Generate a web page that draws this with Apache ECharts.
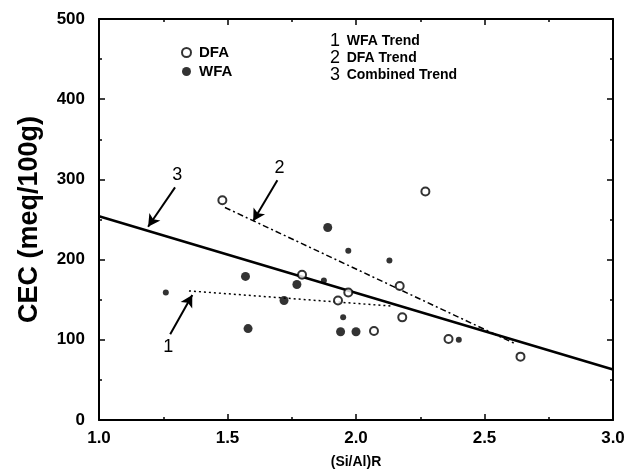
<!DOCTYPE html>
<html>
<head>
<meta charset="utf-8">
<script src="https://cdn.jsdelivr.net/npm/echarts@6/dist/echarts.min.js"></script>
<style>
  html, body { margin: 0; padding: 0; background: #fff; }
  #chart { width: 640px; height: 474px; }
</style>
</head>
<body>
<div id="chart"></div>
<script>
  // points: [(Si/Al)R, CEC]
  const dfaPoints = [
    [1.48, 274], [2.27, 285], [1.79, 181], [1.97, 159], [1.93, 149],
    [2.07, 111], [2.17, 167], [2.18, 128], [2.36, 101], [2.64, 79]
  ]
  const wfaPoints = [
    [1.89, 240], [1.58, 114], [1.77, 169], [1.94, 110], [2.00, 110],
    [1.57, 179], [1.72, 149]
  ]
  const wfaSmallPoints = [
    [1.26, 159], [1.97, 211], [2.13, 199], [1.875, 174], [1.95, 128], [2.40, 100]
  ]

  // trend lines (end points)
  const wfaTrend = [[1.35, 161], [2.14, 142]]
  const dfaTrend = [[1.49, 265], [2.62, 95]]
  const combinedTrend = [[1.0, 254], [3.0, 63]]

  // numbered arrows: [label, tail, head]
  const arrows = [
    ['1', [1.277, 107], [1.363, 156]],
    ['2', [1.694, 299], [1.600, 248]],
    ['3', [1.296, 290], [1.191, 241]]
  ]
  const trendLegend = ['WFA Trend', 'DFA Trend', 'Combined Trend']

  const chart = echarts.init(document.getElementById('chart'))

  const axisBase = {
    axisLine: { show: true, onZero: false, lineStyle: { color: '#000', width: 2 } },
    axisTick: { show: true, inside: true, length: 6, lineStyle: { color: '#000', width: 1.5 } },
    minorTick: { show: true, splitNumber: 2, length: 3, lineStyle: { color: '#000', width: 1.5 } },
    splitLine: { show: false }
  }

  chart.setOption({
    animation: false,
    backgroundColor: '#fff',
    textStyle: { fontFamily: 'Liberation Sans, Arial, sans-serif' },
    grid: { left: 99, right: 27, top: 19, bottom: 50 },
    legend: {
      data: ['DFA', 'WFA'],
      orient: 'vertical',
      left: 176,
      top: 40,
      itemWidth: 9,
      itemHeight: 9,
      itemGap: 4,
      textStyle: { fontSize: 15, fontWeight: 'bold', color: '#000', padding: [0, 0, 0, 3] }
    },
    graphic: trendLegend.map((t, i) => ({
      type: 'text',
      left: 330,
      top: 32 + i * 17,
      style: {
        text: '{n|' + (i + 1) + '}  {t|' + t + '}',
        rich: {
          n: { fontSize: 18, fill: '#000', fontFamily: 'Liberation Sans' },
          t: { fontSize: 14, fontWeight: 'bold', fill: '#000', fontFamily: 'Liberation Sans' }
        }
      }
    })),
    xAxis: [{
      ...axisBase,
      type: 'value',
      min: 1,
      max: 3,
      interval: 0.5,
      name: '(Si/Al)R',
      nameLocation: 'middle',
      nameGap: 35,
      nameTextStyle: { fontSize: 14, fontWeight: 'bold', color: '#000' },
      axisLabel: {
        fontSize: 17, fontWeight: 'bold', color: '#000', margin: 10,
        formatter: v => v.toFixed(1)
      }
    }, {
      ...axisBase,
      type: 'value',
      position: 'top',
      min: 1,
      max: 3,
      interval: 0.5,
      axisLabel: { show: false }
    }],
    yAxis: [{
      ...axisBase,
      type: 'value',
      min: 0,
      max: 500,
      interval: 100,
      name: 'CEC (meq/100g)',
      nameLocation: 'middle',
      nameGap: 56,
      nameTextStyle: { fontSize: 27, fontWeight: 'bold', color: '#000' },
      axisLabel: { fontSize: 17, fontWeight: 'bold', color: '#000', margin: 14 }
    }, {
      ...axisBase,
      type: 'value',
      position: 'right',
      min: 0,
      max: 500,
      interval: 100,
      axisLabel: { show: false }
    }],
    series: [
      {
        name: 'Combined Trend',
        type: 'line',
        data: combinedTrend,
        symbol: 'none',
        lineStyle: { color: '#000', width: 2.5 },
        z: 3,
        markLine: {
          silent: true,
          symbol: ['none', 'arrow'],
          symbolSize: [10, 12],
          lineStyle: { color: '#000', width: 2, type: 'solid' },
          label: {
            show: true,
            position: 'start',
            distance: 4,
            fontSize: 18,
            color: '#000',
            formatter: p => p.name
          },
          data: arrows.map(a => [
            { name: a[0], coord: a[1] },
            { coord: a[2] }
          ])
        }
      },
      {
        name: 'DFA Trend',
        type: 'line',
        data: dfaTrend,
        symbol: 'none',
        lineStyle: { color: '#000', width: 1.5, type: [6, 3, 2, 3] },
        z: 2
      },
      {
        name: 'WFA Trend',
        type: 'line',
        data: wfaTrend,
        symbol: 'none',
        lineStyle: { color: '#000', width: 1.5, type: [2, 3] },
        z: 2
      },
      {
        name: 'DFA',
        type: 'scatter',
        data: dfaPoints,
        symbol: 'emptyCircle',
        symbolSize: 8,
        itemStyle: { color: '#000', borderColor: '#000', borderWidth: 1.5 },
        z: 4
      },
      {
        name: 'WFA',
        type: 'scatter',
        data: wfaPoints,
        symbol: 'circle',
        symbolSize: 9,
        itemStyle: { color: '#000' },
        z: 4
      },
      {
        name: 'WFA',
        type: 'scatter',
        data: wfaSmallPoints,
        symbol: 'circle',
        symbolSize: 6,
        itemStyle: { color: '#000' },
        z: 4
      }
    ]
  })
</script>
</body>
</html>
